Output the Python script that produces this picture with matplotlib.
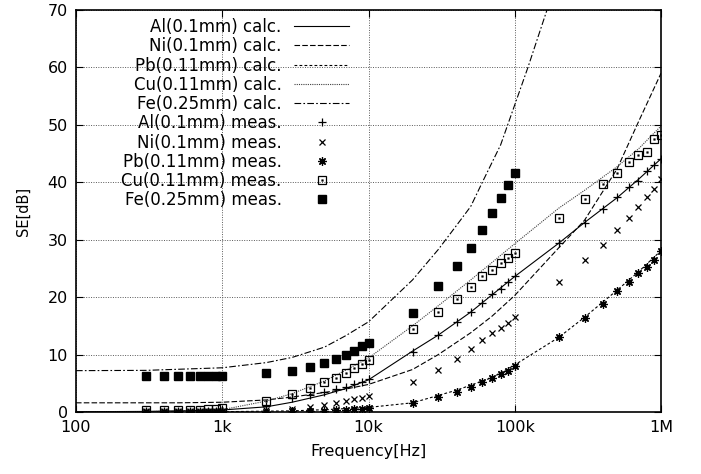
import matplotlib
matplotlib.use("Agg")
import matplotlib.pyplot as plt
from matplotlib.ticker import FixedLocator, NullLocator

plt.rcParams["font.family"] = ["DejaVu Sans"]
plt.rcParams["font.size"] = 11.5

# calculated curves
f_al_c = [100, 300, 1000, 2000, 3000, 5000, 7000, 10000, 20000, 30000, 50000,
          100000, 200000, 300000, 500000, 700000, 1000000]
se_al_c = [0.05, 0.1, 0.35, 0.9, 1.7, 3.0, 4.1, 5.6, 10.6, 13.4, 17.4,
           23.6, 29.4, 33.0, 37.3, 40.5, 44.1]

f_ni_c = [100, 500, 1000, 2000, 3000, 5000, 7000, 10000, 20000, 30000, 50000,
          70000, 100000, 200000, 300000, 500000, 700000, 1000000]
se_ni_c = [1.6, 1.6, 1.7, 2.1, 2.6, 3.4, 4.0, 4.8, 7.4, 10.0, 13.8,
           16.7, 20.3, 28.6, 33.4, 42.3, 50.5, 59.0]

f_pb_c = [100, 1000, 3000, 5000, 10000, 20000, 40000, 70000, 100000,
          200000, 300000, 500000, 700000, 1000000]
se_pb_c = [0.0, 0.05, 0.2, 0.4, 0.8, 1.6, 3.8, 6.0, 8.2,
           13.0, 16.5, 21.2, 24.4, 28.1]

f_cu_c = [100, 300, 1000, 2000, 3000, 5000, 7000, 10000, 20000, 30000, 50000,
          100000, 200000, 300000, 500000, 700000, 1000000]
se_cu_c = [0.02, 0.05, 0.4, 1.9, 3.2, 5.4, 7.3, 9.4, 15.0, 18.5, 23.0,
           29.3, 35.5, 38.6, 42.7, 45.8, 49.8]

f_fe_c = [100, 300, 1000, 2000, 3000, 5000, 7000, 10000, 20000, 30000, 40000,
          50000, 60000, 80000, 100000, 123000, 145000, 166000, 180000]
se_fe_c = [7.2, 7.25, 7.7, 8.6, 9.5, 11.3, 13.3, 15.7, 23.0, 28.3, 32.5,
           35.8, 40.0, 46.5, 53.5, 60.0, 65.5, 70.0, 73.0]

# measured points
f_meas = [300, 400, 500, 600, 700, 800, 900, 1000,
          2000, 3000, 4000, 5000, 6000, 7000, 8000, 9000, 10000,
          20000, 30000, 40000, 50000, 60000, 70000, 80000, 90000, 100000,
          200000, 300000, 400000, 500000, 600000, 700000, 800000, 900000, 1000000]
se_al_m = [0.1, 0.1, 0.1, 0.1, 0.15, 0.15, 0.2, 0.25,
           1.0, 2.4, 2.9, 3.4, 4.0, 4.3, 4.8, 5.2, 5.8,
           10.4, 13.4, 15.7, 17.4, 19.0, 20.5, 21.5, 22.6, 23.7,
           29.4, 32.9, 35.4, 37.5, 39.1, 40.3, 41.9, 43.0, 44.1]
se_ni_m = [0.1, 0.1, 0.1, 0.1, 0.1, 0.1, 0.15, 0.2,
           0.3, 0.5, 0.9, 1.3, 1.6, 1.9, 2.2, 2.5, 2.8,
           5.3, 7.4, 9.3, 10.9, 12.5, 13.7, 14.6, 15.5, 16.6,
           22.6, 26.4, 29.1, 31.7, 33.8, 35.7, 37.5, 38.9, 40.6]
se_pb_m = [0.05, 0.05, 0.05, 0.05, 0.05, 0.05, 0.05, 0.05,
           0.05, 0.1, 0.2, 0.25, 0.3, 0.35, 0.45, 0.55, 0.65,
           1.5, 2.6, 3.5, 4.4, 5.2, 5.9, 6.6, 7.2, 8.0,
           13.1, 16.4, 18.8, 21.0, 22.6, 24.2, 25.2, 26.4, 28.1]
se_cu_m = [0.3, 0.3, 0.3, 0.35, 0.4, 0.5, 0.6, 0.7,
           1.9, 3.2, 4.1, 5.2, 6.0, 6.8, 7.7, 8.3, 9.0,
           14.4, 17.4, 19.7, 21.8, 23.6, 24.8, 25.9, 26.9, 27.7,
           33.8, 37.1, 39.7, 41.7, 43.5, 44.8, 45.3, 47.5, 48.3]
se_fe_m = [6.2, 6.2, 6.2, 6.2, 6.2, 6.3, 6.3, 6.3,
           6.8, 7.2, 7.9, 8.6, 9.3, 10.0, 10.7, 11.5, 12.1,
           17.3, 21.9, 25.4, 28.6, 31.7, 34.6, 37.3, 39.5, 41.6]

x_ticks = [100, 1000, 10000, 100000, 1000000]
x_tick_labels = ["100", "1k", "10k", "100k", "1M"]
y_ticks = [0, 10, 20, 30, 40, 50, 60, 70]

fig = plt.figure(figsize=(7.01, 4.74), dpi=100)
ax = fig.add_axes([0.1084, 0.1308, 0.8346, 0.8481])

lw = 0.8
ax.plot(f_al_c, se_al_c, color="black", lw=lw, label="Al(0.1mm) calc.")
ax.plot(f_ni_c, se_ni_c, color="black", lw=lw, linestyle=(0, (5, 2)), label="Ni(0.1mm) calc.")
ax.plot(f_pb_c, se_pb_c, color="black", lw=lw, linestyle=(0, (2.5, 2)), label="Pb(0.11mm) calc.")
ax.plot(f_cu_c, se_cu_c, color="0.25", lw=lw, linestyle=(0, (1, 1)), label="Cu(0.11mm) calc.")
ax.plot(f_fe_c, se_fe_c, color="black", lw=lw, linestyle=(0, (6, 2, 1.5, 2)), label="Fe(0.25mm) calc.")

ax.plot(f_meas, se_al_m, "+", color="black", ms=6, mew=0.9, label="Al(0.1mm) meas.")
ax.plot(f_meas, se_ni_m, "x", color="black", ms=5, mew=0.9, label="Ni(0.1mm) meas.")
ax.plot(f_meas, se_pb_m, marker=(8, 2, 0), ls="none", color="black", ms=6, mew=0.9,
        label="Pb(0.11mm) meas.")
cu_sq, = ax.plot(f_meas, se_cu_m, "s", color="black", mfc="none", ms=5.5, mew=0.9)
cu_dot, = ax.plot(f_meas, se_cu_m, "s", color="black", ms=1.2, mew=0.3)
ax.plot(f_meas[:len(se_fe_m)], se_fe_m, "s", color="black", ms=5.5, label="Fe(0.25mm) meas.")

ax.set_xscale("log")
ax.set_xlim(100, 1000000)
ax.set_ylim(0, 70)
ax.xaxis.set_major_locator(FixedLocator(x_ticks))
ax.xaxis.set_minor_locator(NullLocator())
ax.set_xticklabels(x_tick_labels)
ax.set_yticks(y_ticks)
ax.tick_params(direction="in", length=5, width=0.8, top=True, right=True, colors="black")
ax.tick_params(axis="x", pad=6)
ax.tick_params(axis="y", pad=6)
ax.grid(True, color="0.35", linestyle=(0, (1, 1.5)), linewidth=0.7)
for s in ax.spines.values():
    s.set_linewidth(1.2)

ax.set_xlabel("Frequency[Hz]", labelpad=6)
ax.set_ylabel("SE[dB]", fontsize=10.5, labelpad=12)

# legend: text on the left, right-aligned, samples on the right (gnuplot style)
handles, labels = ax.get_legend_handles_labels()
handles.insert(8, (cu_sq, cu_dot))
labels.insert(8, "Cu(0.11mm) meas.")
ax.legend(handles, labels, loc="upper right", bbox_to_anchor=(0.467, 0.98),
          frameon=False, markerfirst=False, handlelength=3.3, handletextpad=0.75,
          labelspacing=0.075, borderpad=0, borderaxespad=0, numpoints=1, fontsize=12)

fig.savefig("out.png", dpi=100)
